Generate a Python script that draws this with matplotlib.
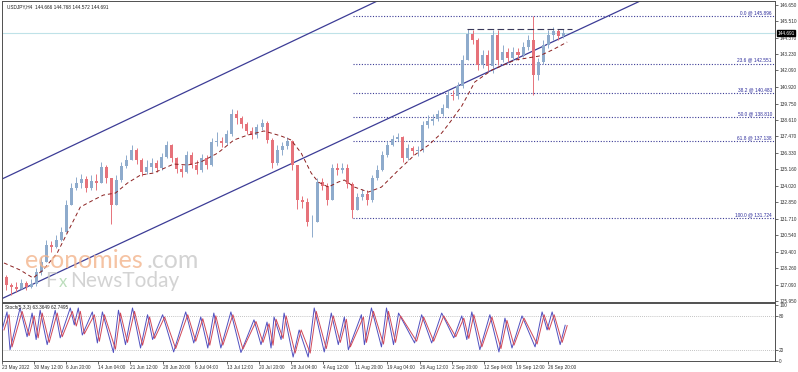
import matplotlib
matplotlib.use("Agg")
import matplotlib.pyplot as plt
import matplotlib.transforms as mtransforms
import numpy as np

# ---- price data (one candle ~ 5 H4 bars) ----
first_open = 127.63
closes = [127.07, 126.93, 126.79, 127.21, 126.93, 127.14, 127.98, 128.68, 129.87, 129.73,
          130.22, 130.78, 132.66, 133.85, 134.20, 134.48, 133.85, 134.34, 134.20, 135.32,
          134.55, 132.66, 134.41, 135.39, 135.81, 136.51, 135.81, 134.97, 135.32, 135.60,
          135.25, 136.02, 136.86, 135.95, 135.18, 134.97, 136.16, 135.46, 135.11, 135.95,
          135.46, 137.07, 137.14, 137.00, 137.63, 139.03, 138.75, 138.33, 137.84, 137.56,
          138.12, 138.40, 137.21, 135.60, 136.51, 136.79, 137.14, 135.46, 133.01, 132.87,
          131.48, 131.48, 134.27, 133.99, 133.01, 135.25, 135.11, 135.25, 134.13, 132.31,
          133.22, 133.43, 133.01, 134.55, 135.11, 136.16, 136.86, 137.28, 137.42, 135.95,
          136.65, 136.44, 136.51, 138.26, 138.54, 138.68, 139.03, 139.45, 140.36, 140.29,
          140.99, 142.80, 144.62, 144.20, 142.45, 143.15, 142.38, 144.55, 142.80, 143.36,
          142.94, 143.36, 143.15, 143.71, 144.20, 141.76, 142.66, 143.85, 144.55, 144.83,
          144.48, 144.69]
highs = [127.77, 127.21, 127.28, 127.49, 127.35, 127.49, 128.26, 129.03, 130.22, 130.15,
         130.57, 131.13, 133.01, 134.20, 134.62, 134.83, 134.69, 134.76, 134.83, 135.67,
         135.46, 134.41, 134.76, 135.67, 136.16, 136.86, 136.65, 135.95, 135.81, 135.95,
         135.81, 136.30, 137.14, 136.93, 136.02, 135.46, 136.44, 136.37, 135.81, 136.23,
         136.16, 137.35, 137.77, 137.42, 137.91, 139.39, 139.31, 138.89, 138.47, 138.12,
         138.33, 138.68, 138.54, 137.35, 136.86, 137.07, 137.42, 137.21, 135.46, 133.29,
         133.15, 131.96, 134.55, 134.55, 134.20, 135.53, 135.60, 135.60, 135.53, 134.27,
         133.50, 133.78, 133.71, 134.76, 135.46, 136.44, 137.14, 137.56, 137.70, 137.49,
         136.93, 136.79, 136.79, 138.54, 138.96, 139.03, 139.31, 139.73, 140.71, 140.71,
         141.27, 143.15, 144.97, 144.90, 144.34, 143.50, 143.50, 144.90, 144.90, 143.85,
         143.64, 143.71, 143.64, 144.06, 144.55, 145.896, 142.94, 144.20, 144.90, 145.11,
         144.97, 144.97]
lows = [126.72, 126.36, 126.58, 126.79, 126.72, 126.86, 127.00, 127.77, 128.82, 129.38,
        129.66, 130.15, 131.27, 132.66, 133.71, 133.85, 133.57, 133.71, 133.71, 134.27,
        134.20, 131.34, 132.66, 134.27, 135.25, 135.81, 135.53, 134.69, 134.83, 134.97,
        134.97, 135.11, 135.95, 135.67, 134.90, 134.62, 134.90, 135.25, 134.83, 134.97,
        135.18, 135.39, 136.79, 136.72, 136.86, 137.49, 138.33, 138.05, 137.63, 137.28,
        137.35, 137.91, 137.00, 135.25, 135.46, 136.16, 136.58, 135.11, 132.38, 132.45,
        131.20, 130.40, 131.62, 133.71, 132.66, 133.01, 134.76, 134.90, 133.85, 131.724,
        132.31, 133.01, 132.66, 132.87, 134.41, 135.04, 136.02, 136.79, 137.14, 135.67,
        135.81, 136.16, 136.09, 136.37, 138.05, 138.26, 138.54, 138.89, 139.45, 140.01,
        140.08, 140.85, 142.80, 143.92, 142.10, 142.24, 142.03, 141.89, 142.45, 142.66,
        142.66, 142.80, 142.80, 143.01, 143.50, 140.35, 141.41, 142.52, 143.64, 144.20,
        144.20, 144.34]

# moving average (dashed), read at a few bars
ma_bars = [2, 18, 31, 41, 55, 65, 78, 91, 101, 113, 125, 138, 151, 171, 185, 198, 215,
           231, 245, 261, 278, 288, 298, 308, 315, 325, 335, 341, 351, 365, 378, 395,
           411, 425, 438, 445, 458, 471, 488, 511, 535, 548, 563]
ma_vals = [128.61, 128.12, 127.56, 128.12, 129.31, 130.71, 132.52, 133.01, 133.36, 133.50,
           134.20, 134.76, 134.90, 135.53, 135.46, 135.67, 136.30, 137.21, 137.56, 137.84,
           137.49, 137.21, 136.30, 134.90, 134.27, 133.92, 134.27, 134.41, 133.92, 133.57,
           133.92, 135.11, 136.16, 136.86, 137.70, 138.33, 139.59, 141.27, 142.10, 142.80,
           143.08, 143.50, 144.06]

# stochastic turning points
stoch_bars = [0, 5, 8, 18, 25, 30, 34, 38, 45, 53, 58, 68, 72, 76, 80, 90, 95, 100, 111,
              116, 123, 130, 138, 145, 150, 160, 171, 183, 191, 198, 205, 211, 218, 228,
              238, 251, 258, 264, 268, 271, 278, 281, 290, 296, 305, 311, 321, 328, 335,
              341, 345, 358, 361, 368, 378, 383, 390, 395, 411, 418, 428, 438, 450, 458,
              463, 468, 476, 486, 495, 501, 508, 518, 531, 538, 543, 548, 556, 561]
stoch_main = [55, 87, 20, 94, 43, 85, 38, 90, 29, 90, 41, 94, 64, 94, 46, 87, 32, 87, 15,
              90, 29, 94, 23, 82, 38, 82, 16, 87, 32, 78, 23, 85, 23, 87, 15, 73, 29, 69,
              23, 78, 38, 85, 7, 55, 7, 94, 16, 85, 29, 78, 20, 82, 29, 94, 25, 94, 29, 85,
              32, 82, 32, 85, 41, 80, 38, 87, 20, 82, 16, 76, 23, 80, 25, 87, 55, 87, 29,
              63.36]
stoch_signal = [55, 82, 25, 88, 45, 80, 41, 85, 33, 85, 43, 88, 62, 88, 48, 82, 35, 82, 21,
                85, 33, 88, 28, 78, 40, 78, 22, 82, 35, 75, 28, 80, 28, 82, 21, 70, 33, 66,
                28, 74, 40, 80, 14, 55, 14, 88, 22, 80, 33, 74, 25, 78, 33, 88, 30, 88, 33,
                80, 35, 78, 35, 80, 43, 76, 40, 82, 25, 78, 22, 72, 28, 76, 30, 82, 55, 82,
                33, 62.75]

# drawn objects
fib_levels = ["0.0", "23.6", "38.2", "50.0", "61.8", "100.0"]
fib_prices = [145.896, 142.551, 140.483, 138.810, 137.138, 131.724]
fib_start = 350
channel_bars = [0, 300]
upper_channel = [134.48, 144.47]
lower_channel = [126.12, 135.94]
resist_bars = [463, 568]
resist_price = 144.97
last_price = 144.691

ohlc_text = "USDJPY,H4  144.666 144.768 144.572 144.691"
stoch_text = "Stoch(5,3,3) 63.3649 62.7495"
price_ticks = [146.650, 145.510, 144.370, 143.230, 142.090, 140.920, 139.750, 138.610,
               137.470, 136.330, 135.160, 134.020, 132.850, 131.710, 130.540, 129.400,
               128.260, 127.090, 125.950]
date_labels = ["23 May 2022", "30 May 12:00", "6 Jun 20:00", "14 Jun 04:00", "21 Jun 12:00",
               "28 Jun 20:00", "6 Jul 04:00", "13 Jul 12:00", "20 Jul 20:00", "28 Jul 04:00",
               "4 Aug 12:00", "11 Aug 20:00", "19 Aug 04:00", "26 Aug 12:00", "2 Sep 20:00",
               "12 Sep 04:00", "19 Sep 12:00", "26 Sep 20:00"]

plt.rcParams["font.family"] = ["Liberation Sans", "DejaVu Sans"]
small = 3.4
navy = "#3c3c96"
frame = "#505050"

fig = plt.figure(figsize=(7.98, 3.72), dpi=100)
ax = fig.add_axes([2 / 798, 1 - 302 / 372, 773 / 798, 301 / 372])
ax2 = fig.add_axes([2 / 798, 1 - 361 / 372, 773 / 798, 58 / 372])

ax.set_xlim(0, 770)
ax.set_ylim(125.881, 146.93)
ax2.set_xlim(0, 770)
ax2.set_ylim(0.5, 102.8)

# candles
cand_x = 4 + 5 * np.arange(len(closes))
opens = np.array([first_open] + closes[:-1])
c = np.array(closes)
up = c >= opens
cols = np.where(up, "#8eabcc", "#e6727a")
top = np.maximum.reduce([np.array(highs), opens, c])
bot = np.minimum.reduce([np.array(lows), opens, c])
ax.vlines(cand_x, bot, top, colors=cols, lw=0.7, zorder=3)
body = np.maximum(np.abs(c - opens), 0.02)
ax.bar(cand_x, body, bottom=np.minimum(opens, c), width=3.0, color=cols, lw=0, zorder=3)

# moving average
ax.plot(ma_bars, ma_vals, color="#8b2020", lw=0.7, ls=(0, (4, 3)), zorder=4)

# current price line
ax.axhline(last_price, color="#bfe2e8", lw=0.8, zorder=1)

# channel
ax.axline((channel_bars[0], upper_channel[0]), (channel_bars[1], upper_channel[1]),
          color=navy, lw=0.9, zorder=2)
ax.axline((channel_bars[0], lower_channel[0]), (channel_bars[1], lower_channel[1]),
          color=navy, lw=0.9, zorder=2)

# fibonacci
for lvl, p in zip(fib_levels, fib_prices):
    ax.hlines(p, fib_start, 770, colors=navy, lw=0.8, linestyles=(0, (1, 1.5)), zorder=2)
    ax.annotate(f"{lvl} @ {p:.3f}", (767, p), xytext=(0, 0.6), textcoords="offset points",
                ha="right", va="bottom", fontsize=small, color="#2a2a9a")

# resistance
ax.hlines(resist_price, resist_bars[0], resist_bars[1], colors="#3a3a5a", lw=0.8,
          linestyles=(0, (6, 3)), zorder=4)

# axes style
for a in (ax, ax2):
    for s in a.spines.values():
        s.set_color(frame)
        s.set_linewidth(0.7)
ax.set_xticks([])
ax.yaxis.tick_right()
ax.set_yticks(price_ticks)
ax.set_yticklabels([f"{t:.3f}" for t in price_ticks])
ax.tick_params(axis="y", length=2, width=0.5, pad=1, labelsize=small, colors="#303030")

tr = mtransforms.blended_transform_factory(ax.transAxes, ax.transData)
ax.text(1.003, last_price, f"{last_price:.3f}", transform=tr, ha="left", va="center",
        fontsize=small, color="white",
        bbox=dict(facecolor="black", edgecolor="black", pad=0.5), zorder=6)
ax.text(0.006, 0.99, ohlc_text, transform=ax.transAxes, ha="left", va="top",
        fontsize=small, color="#202020")

# stochastic
ax2.plot(stoch_bars, stoch_main, color="#5050c0", lw=0.7, zorder=3)
ax2.plot(np.array(stoch_bars) + 2, stoch_signal, color="#d04858", lw=0.7, zorder=3)
for lv in (20, 80):
    ax2.axhline(lv, color="#b0b0b0", lw=0.6, ls=(0, (1, 1.5)), zorder=1)
ax2.yaxis.tick_right()
ax2.set_yticks([0, 20, 80, 100])
ax2.set_yticklabels(["0", "20", "80", "100"])
ax2.tick_params(axis="y", length=2, width=0.5, pad=1, labelsize=small, colors="#303030")
ax2.set_xticks(np.arange(len(date_labels)) * 32)
ax2.set_xticklabels(date_labels)
ax2.tick_params(axis="x", length=2, width=0.5, pad=1, labelsize=small, colors="#303030")
for lab in ax2.get_xticklabels():
    lab.set_horizontalalignment("left")
ax2.text(0.004, 0.97, stoch_text, transform=ax2.transAxes, ha="left", va="top",
         fontsize=small, color="#202020")

# watermark
wm = ["Lato", "DejaVu Sans"]
fig.text(25 / 798, 1 - 268 / 372, "economies", family=wm, fontsize=18, color="#f3b48c",
         alpha=0.8, va="baseline", zorder=10)
fig.text(147 / 798, 1 - 268 / 372, ".com", family=wm, fontsize=18, color="#c8c8c8",
         alpha=0.8, va="baseline", zorder=10)
fig.text(45 / 798, 1 - 287 / 372, "F", family=wm, fontsize=15, color="#c8c8c8",
         alpha=0.8, va="baseline", zorder=10)
fig.text(59 / 798, 1 - 287 / 372, "x", family=wm, fontsize=12, color="#b0d8b0",
         alpha=0.85, va="baseline", zorder=10)
fig.text(70 / 798, 1 - 287 / 372, "NewsToday", family=wm, fontsize=15, color="#c8c8c8",
         alpha=0.8, va="baseline", zorder=10)

fig.savefig("out.png", dpi=100, facecolor="white")
